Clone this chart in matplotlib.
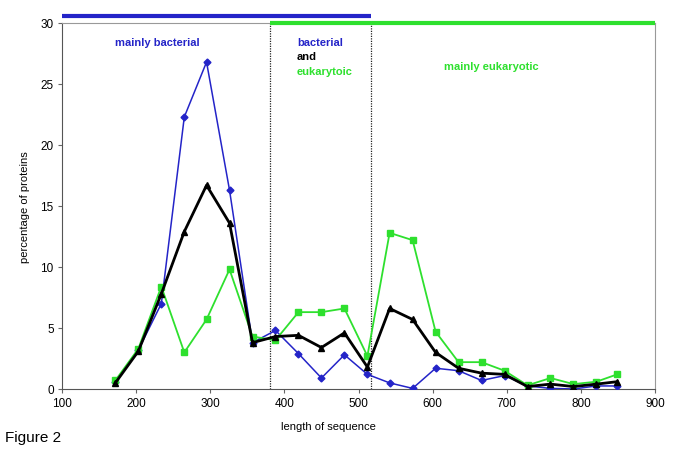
import matplotlib
matplotlib.use("Agg")
import matplotlib.pyplot as plt

plt.rcParams['font.family'] = ['Liberation Sans', 'DejaVu Sans']

length = [172, 203, 234, 265, 295, 326, 357, 388, 419, 450, 481, 512,
          542, 573, 604, 635, 666, 697, 728, 759, 790, 821, 849]
bacterial = [0.6, 3.2, 7.0, 22.3, 26.8, 16.3, 3.8, 4.8, 2.9, 0.9, 2.8, 1.2,
             0.5, 0.05, 1.7, 1.5, 0.7, 1.1, 0.25, 0.05, 0.0, 0.25, 0.25]
combined = [0.5, 3.1, 7.8, 12.9, 16.7, 13.6, 3.8, 4.3, 4.4, 3.4, 4.6, 1.8,
            6.6, 5.7, 3.0, 1.7, 1.3, 1.2, 0.2, 0.4, 0.2, 0.4, 0.6]
eukaryotic = [0.7, 3.3, 8.4, 3.0, 5.7, 9.8, 4.3, 4.0, 6.3, 6.3, 6.6, 2.7,
              12.8, 12.2, 4.7, 2.2, 2.2, 1.5, 0.3, 0.9, 0.4, 0.6, 1.2]

xticks = [100, 200, 300, 400, 500, 600, 700, 800, 900]
yticks = [0, 5, 10, 15, 20, 25, 30]
boundaries = [380, 517]

BLUE = '#2424c8'
GREEN = '#2ee02e'

fig = plt.figure(figsize=(6.85, 4.56), dpi=100)
ax = fig.add_axes([62/685, 1-390/456, (655-62)/685, (390-24)/456])

ax.plot(length, bacterial, color=BLUE, lw=1.1, marker='D', ms=3.5,
        mfc=BLUE, mec=BLUE, zorder=3)
ax.plot(length, eukaryotic, color=GREEN, lw=1.3, marker='s', ms=5,
        mfc=GREEN, mec=GREEN, zorder=4)
ax.plot(length, combined, color='black', lw=2.0, marker='^', ms=5,
        mfc='black', mec='black', zorder=5)

for b in boundaries:
    ax.axvline(b, color='#222222', lw=0.9, ls=(0, (1, 1)), zorder=2)

ax.set_xlim(100, 900)
ax.set_ylim(0, 30)
ax.set_xticks(xticks)
ax.set_yticks(yticks)
ax.tick_params(axis='both', labelsize=8.5, direction='out', length=3,
               color='#666666', pad=3)
for s in ['left', 'bottom']:
    ax.spines[s].set_color('#555555')
for s in ['right', 'top']:
    ax.spines[s].set_color('#999999')

# region bars along the top
ax.plot([100, 517], [30.6, 30.6], color=BLUE, lw=3, clip_on=False,
        solid_capstyle='butt', zorder=6)
ax.plot([380, 900], [30.0, 30.0], color=GREEN, lw=3, clip_on=False,
        solid_capstyle='butt', zorder=6)

fs = 8
ax.text(228, 28.47, 'mainly bacterial', color=BLUE, fontsize=fs,
        fontweight='bold', ha='center', va='center')
ax.text(417, 28.47, 'bacterial', color=BLUE, fontsize=fs,
        fontweight='bold', ha='left', va='center')
ax.text(417, 27.27, 'and', color='black', fontsize=fs,
        fontweight='bold', ha='left', va='center')
ax.text(417, 26.03, 'eukarytoic', color=GREEN, fontsize=fs,
        fontweight='bold', ha='left', va='center')
ax.text(679, 26.45, 'mainly eukaryotic', color=GREEN, fontsize=fs,
        fontweight='bold', ha='center', va='center')

ax.set_xlabel('length of sequence', fontsize=8)
ax.xaxis.set_label_coords((328-62)/593, -(427-390)/366)
ax.xaxis.label.set_va('center')
ax.set_ylabel('percentage of proteins', fontsize=8)
ax.yaxis.set_label_coords(-(62-25)/593, 0.5)
ax.yaxis.label.set_va('center')

fig.text(5/685, 1-438/456, 'Figure 2', fontsize=11, ha='left', va='center')

fig.savefig('out.png', dpi=100)
